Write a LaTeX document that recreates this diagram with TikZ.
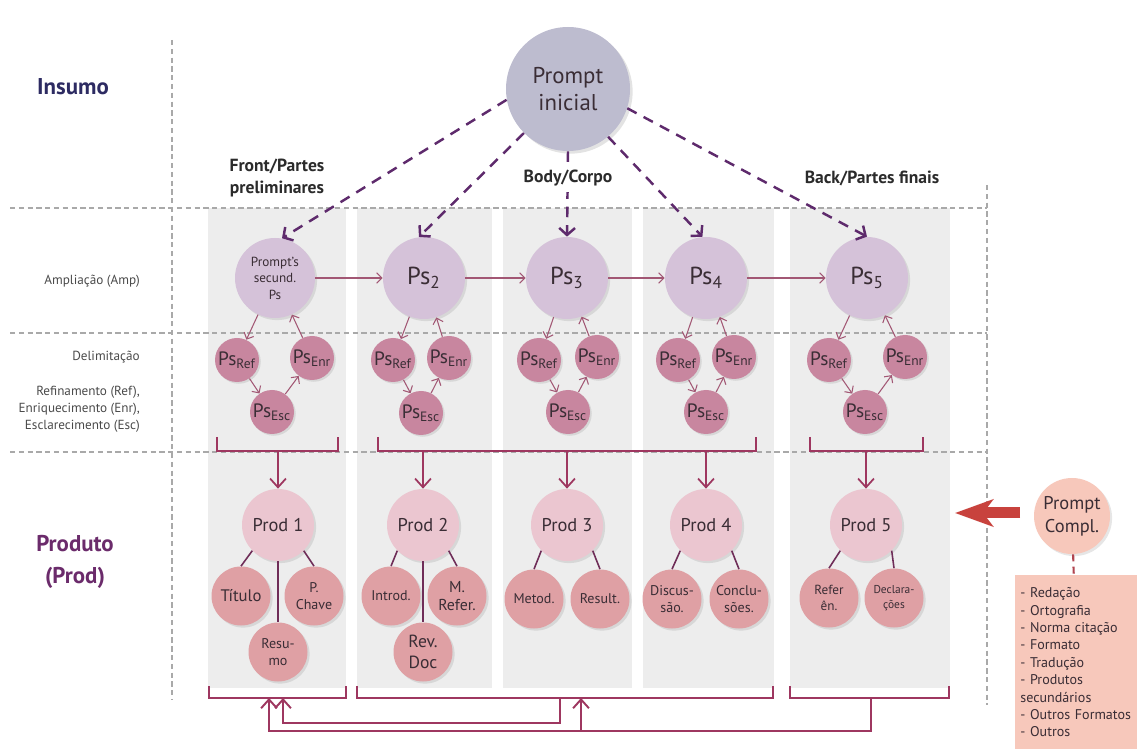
\documentclass[tikz,border=0pt]{standalone}
\usepackage{fontspec}
\setmainfont{PT Sans}
\usetikzlibrary{shapes, arrows.meta, positioning, shadows}

\definecolor{colgrey}{HTML}{EDEDED}
\definecolor{gridgrey}{HTML}{A9A9A9}
\definecolor{promptgrey}{HTML}{BDBCCF}
\definecolor{pslilac}{HTML}{D5C2D9}
\definecolor{psmauve}{HTML}{C8869F}
\definecolor{prodpink}{HTML}{EBC6D0}
\definecolor{partpink}{HTML}{DFA0A4}
\definecolor{complpeach}{HTML}{F7C8BB}
\definecolor{compldash}{HTML}{B0444F}
\definecolor{dashpurple}{HTML}{5E2A6C}
\definecolor{thinmauve}{HTML}{A25774}
\definecolor{linkred}{HTML}{9E3760}
\definecolor{leafpurple}{HTML}{6F2D58}
\definecolor{bigred}{HTML}{C8423D}
\definecolor{insumoblue}{HTML}{2D2B62}
\definecolor{prodpurple}{HTML}{6B2B6B}
\definecolor{labelgrey}{HTML}{4A4A4A}
\definecolor{headdark}{HTML}{2B2B2B}
\definecolor{textdark}{HTML}{3A2D35}

\begin{document}
\begin{tikzpicture}[x=0.2mm, y=-0.2mm, node distance=1cm]
        \tikzstyle{promptblob} = [circle, minimum size=24.8mm, inner sep=0pt, fill=promptgrey, drop shadow={opacity=0.22, shadow xshift=1.5pt, shadow yshift=-1.5pt}, align=center, text=textdark, font=\fontsize{13}{15.5}\selectfont]
        \tikzstyle{psblob} = [circle, minimum size=16.4mm, inner sep=0pt, fill=pslilac, drop shadow={opacity=0.2, shadow xshift=1.2pt, shadow yshift=-1.2pt}, align=center, text=textdark, font=\fontsize{14}{16}\selectfont]
        \tikzstyle{subblob} = [circle, minimum size=8.8mm, inner sep=0pt, fill=psmauve, drop shadow={opacity=0.2, shadow xshift=1pt, shadow yshift=-1pt}, text=textdark, font=\fontsize{11}{13}\selectfont]
        \tikzstyle{prodblob} = [circle, minimum size=14.4mm, inner sep=0pt, fill=prodpink, drop shadow={opacity=0.2, shadow xshift=1.2pt, shadow yshift=-1.2pt}, text=textdark, font=\fontsize{10.5}{12}\selectfont]
        \tikzstyle{partblob} = [circle, minimum size=11.8mm, inner sep=0pt, fill=partpink, drop shadow={opacity=0.2, shadow xshift=1.2pt, shadow yshift=-1.2pt}, align=center, text=textdark, font=\fontsize{8}{9.5}\selectfont]
        \tikzstyle{column} = [fill=colgrey]
        \tikzstyle{gridline} = [draw=gridgrey, line width=0.6pt, dash pattern=on 3pt off 2pt]
        \tikzstyle{promptarrow} = [draw=dashpurple, line width=1.4pt, dash pattern=on 6pt off 4.5pt, -{Straight Barb[length=4pt, width=9pt]}]
        \tikzstyle{singlearrow} = [draw=thinmauve, line width=0.6pt, -{Straight Barb[length=3pt, width=6pt]}]
        \tikzstyle{prodarrow} = [draw=linkred, line width=1pt, -{Straight Barb[length=5pt, width=9pt]}]
        \tikzstyle{bracket} = [draw=linkred, line width=1.1pt]
        \tikzstyle{leafline} = [draw=leafpurple, line width=0.9pt]
        \tikzstyle{rowlabel} = [align=right, anchor=east, text=labelgrey, font=\fontsize{7.5}{9.6}\selectfont]
        \tikzstyle{colhead} = [align=center, text=headdark, font=\bfseries\fontsize{10}{12}\selectfont]

        \useasboundingbox (0,0) rectangle (1137,749);

        % grey columns
        \fill[column] (208,208) rectangle (346,688);
        \fill[column] (357,208) rectangle (492,688);
        \fill[column] (503,208) rectangle (632,688);
        \fill[column] (643,208) rectangle (774,688);
        \fill[column] (790,208) rectangle (950,688);

        % dashed grid
        \draw[gridline] (172,40) -- (172,700);
        \draw[gridline] (987,185) -- (987,705);
        \draw[gridline] (10,208) -- (987,208);
        \draw[gridline] (10,333) -- (987,333);
        \draw[gridline] (10,452) -- (987,452);

        % row labels
        \node (insumo) [text=insumoblue, font=\bfseries\fontsize{13}{15}\selectfont] at (73,87) {Insumo};
        \node (produto) [align=center, text=prodpurple, font=\bfseries\fontsize{13}{18}\selectfont] at (75,562) {Produto\\(Prod)};
        \node (amp) [rowlabel] at (146,281) {Ampliação (Amp)};
        \node (delim) [rowlabel] at (146,357) {Delimitação};
        \node (refin) [rowlabel] at (146,409) {Refinamento (Ref),\\Enriquecimento (Enr),\\Esclarecimento (Esc)};

        % prompt and secondary prompts
        \node (prompt) [promptblob] at (568,89) {Prompt\\inicial};
        \node (ps1) [psblob, minimum size=16mm, font=\fontsize{7.5}{9.4}\selectfont] at (275,278) {Prompt's\\secund.\\Ps};
        \node (ps2) [psblob] at (424,278) {Ps\textsubscript{2}};
        \node (ps3) [psblob] at (567,278) {Ps\textsubscript{3}};
        \node (ps4) [psblob] at (706,278) {Ps\textsubscript{4}};
        \node (ps5) [psblob] at (867,278) {Ps\textsubscript{5}};

        \draw[promptarrow] (prompt.190) -- (ps1.80);
        \draw[promptarrow] (prompt.225) -- (ps2.97);
        \draw[promptarrow] (prompt.south) -- (ps3.north);
        \draw[promptarrow] (prompt.-50) -- (ps4.95);
        \draw[promptarrow] (prompt.-18) -- (ps5.north);

        \node (front) [colhead] at (277,178) {Front/Partes\\preliminares};
        \node (body) [colhead, fill=white] at (568,178) {Body/Corpo};
        \node (back) [colhead] at (872,178) {Back/Partes finais};

        \draw[singlearrow] (ps1) -- (ps2);
        \draw[singlearrow] (ps2) -- (ps3);
        \draw[singlearrow] (ps3) -- (ps4);
        \draw[singlearrow] (ps4) -- (ps5);

        % refinement loops
        \node (ref1) [subblob] at (237,360) {Ps\textsubscript{Ref}};
        \node (enr1) [subblob] at (312,358) {Ps\textsubscript{Enr}};
        \node (esc1) [subblob] at (272,412) {Ps\textsubscript{Esc}};
        \node (ref2) [subblob] at (393,360) {Ps\textsubscript{Ref}};
        \node (enr2) [subblob] at (449,358) {Ps\textsubscript{Enr}};
        \node (esc2) [subblob] at (421,413) {Ps\textsubscript{Esc}};
        \node (ref3) [subblob] at (539,360) {Ps\textsubscript{Ref}};
        \node (enr3) [subblob] at (597,357) {Ps\textsubscript{Enr}};
        \node (esc3) [subblob] at (568,412) {Ps\textsubscript{Esc}};
        \node (ref4) [subblob] at (678,360) {Ps\textsubscript{Ref}};
        \node (enr4) [subblob] at (734,357) {Ps\textsubscript{Enr}};
        \node (esc4) [subblob] at (706,412) {Ps\textsubscript{Esc}};
        \node (ref5) [subblob] at (829,360) {Ps\textsubscript{Ref}};
        \node (enr5) [subblob] at (905,357) {Ps\textsubscript{Enr}};
        \node (esc5) [subblob] at (865,412) {Ps\textsubscript{Esc}};

        \draw[singlearrow] (ps1) -- (ref1);
        \draw[singlearrow] (ref1) -- (esc1);
        \draw[singlearrow] (esc1) -- (enr1);
        \draw[singlearrow] (enr1) -- (ps1);
        \draw[singlearrow] (ps2) -- (ref2);
        \draw[singlearrow] (ref2) -- (esc2);
        \draw[singlearrow] (esc2) -- (enr2);
        \draw[singlearrow] (enr2) -- (ps2);
        \draw[singlearrow] (ps3) -- (ref3);
        \draw[singlearrow] (ref3) -- (esc3);
        \draw[singlearrow] (esc3) -- (enr3);
        \draw[singlearrow] (enr3) -- (ps3);
        \draw[singlearrow] (ps4) -- (ref4);
        \draw[singlearrow] (ref4) -- (esc4);
        \draw[singlearrow] (esc4) -- (enr4);
        \draw[singlearrow] (enr4) -- (ps4);
        \draw[singlearrow] (ps5) -- (ref5);
        \draw[singlearrow] (ref5) -- (esc5);
        \draw[singlearrow] (esc5) -- (enr5);
        \draw[singlearrow] (enr5) -- (ps5);

        % brackets above the products
        \draw[bracket] (217,437) -- (217,451) -- (338,451) -- (338,437);
        \draw[bracket] (378,437) -- (378,451) -- (756,451) -- (756,437);
        \draw[bracket] (810,437) -- (810,451) -- (923,451) -- (923,437);
        \coordinate (top1) at (278,451);
        \coordinate (top2) at (423,451);
        \coordinate (top3) at (567,451);
        \coordinate (top4) at (706,451);
        \coordinate (top5) at (866,451);

        % products
        \node (prod1) [prodblob] at (278,525) {Prod 1};
        \node (prod2) [prodblob] at (423,525) {Prod 2};
        \node (prod3) [prodblob] at (567,525) {Prod 3};
        \node (prod4) [prodblob] at (706,525) {Prod 4};
        \node (prod5) [prodblob] at (866,525) {Prod 5};

        \draw[prodarrow] (top1) -- (prod1);
        \draw[prodarrow] (top2) -- (prod2);
        \draw[prodarrow] (top3) -- (prod3);
        \draw[prodarrow] (top4) -- (prod4);
        \draw[prodarrow] (top5) -- (prod5);

        \node (titulo) [partblob, font=\fontsize{9.5}{11}\selectfont] at (241,596) {Título};
        \node (pchave) [partblob] at (314,596) {P.\\Chave};
        \node (resumo) [partblob] at (278,652) {Resu-\\mo};
        \node (introd) [partblob] at (391,596) {Introd.};
        \node (mrefer) [partblob, font=\fontsize{9}{10.5}\selectfont] at (457,596) {M.\\Refer.};
        \node (revdoc) [partblob, font=\fontsize{10}{12}\selectfont] at (423,652) {Rev.\\Doc};
        \node (metod) [partblob] at (534,599) {Metod.};
        \node (result) [partblob] at (600,599) {Result.};
        \node (discus) [partblob] at (672,599) {Discus-\\são.};
        \node (conclu) [partblob] at (739,599) {Conclu-\\sões.};
        \node (referen) [partblob, font=\fontsize{7.5}{9.5}\selectfont] at (829,598) {Refer\\ên.};
        \node (declara) [partblob, font=\fontsize{6.5}{8.5}\selectfont] at (894,598) {Declara-\\ções};

        \draw[leafline] (prod1.225) -- (titulo.north);
        \draw[leafline] (prod1.-45) -- (pchave.north);
        \draw[leafline] (prod1.south) -- (resumo.north);
        \draw[leafline] (prod2.225) -- (introd.north);
        \draw[leafline] (prod2.-45) -- (mrefer.north);
        \draw[leafline] (prod2.south) -- (revdoc.north);
        \draw[leafline] (prod3.225) -- (metod.north);
        \draw[leafline] (prod3.-45) -- (result.north);
        \draw[leafline] (prod4.225) -- (discus.north);
        \draw[leafline] (prod4.-45) -- (conclu.north);
        \draw[leafline] (prod5.225) -- (referen.north);
        \draw[leafline] (prod5.-45) -- (declara.north);

        % brackets below and feedback lines
        \draw[bracket] (209,686) -- (209,698) -- (346,698) -- (346,686);
        \draw[bracket] (357,686) -- (357,698) -- (773,698) -- (773,686);
        \draw[bracket] (790,686) -- (790,698) -- (949,698) -- (949,686);
        \coordinate (foot1a) at (269,698);
        \coordinate (foot1b) at (283,698);
        \coordinate (foot2) at (560,698);
        \coordinate (foot2b) at (581,698);
        \coordinate (foot5) at (871,698);
        \coordinate (footjoin) at (581,731);
        \draw[bracket, -{Straight Barb[length=5pt, width=9pt]}] (foot2) -- ++(0,25) -| (foot1b);
        \draw[bracket, -{Straight Barb[length=5pt, width=9pt]}] (foot5) -- ++(0,33) -| (foot1a);
        \draw[bracket, -{Straight Barb[length=5pt, width=9pt]}] (footjoin) -- (foot2b);

        % complementary prompt
        \node (pcompl) [circle, minimum size=15.2mm, inner sep=0pt, fill=complpeach, drop shadow={opacity=0.2, shadow xshift=1.2pt, shadow yshift=-1.2pt}, align=center, text=textdark, font=\fontsize{10.5}{13}\selectfont] at (1072,516) {Prompt\\Compl.};
        \node (complist) [anchor=north west, fill=complpeach, minimum width=24.4mm, minimum height=34.8mm, text width=22.4mm, inner xsep=1mm, align=left, text=textdark, font=\fontsize{8}{9.9}\selectfont] at (1015,575) {- Redação\\- Ortografia\\- Norma citação\\- Formato\\- Tradução\\- Produtos\\secundários\\- Outros Formatos\\- Outros};
        \draw[draw=compldash, line width=1.2pt, dash pattern=on 4pt off 3pt] (pcompl) -- (complist);

        \coordinate (redtail) at (1020,513);
        \coordinate (redtip) at (955,513);
        \draw[draw=bigred, line width=2.2mm, -{Stealth[length=7.6mm, width=5.4mm, inset=2mm]}] (redtail) -- (redtip);

    \end{tikzpicture}
\end{document}
